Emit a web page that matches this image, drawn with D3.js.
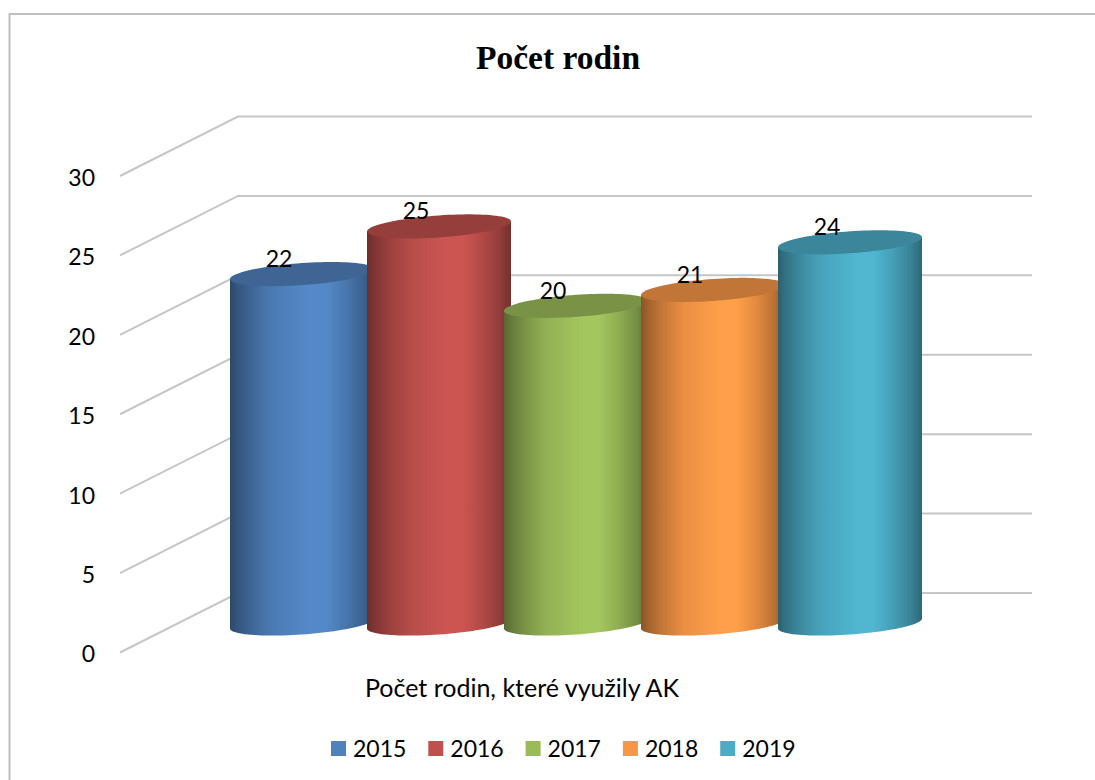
<!DOCTYPE html>
<html>
<head>
<meta charset="utf-8">
<script src="https://cdn.jsdelivr.net/npm/d3@7"></script>
<style>
  html, body { margin: 0; padding: 0; background: #fff; }
  svg { display: block; }
  text { font-family: Lato, "Noto Sans", sans-serif; fill: #000; }
</style>
</head>
<body>
<div id="chart"></div>
<script>
var years = ["2015", "2016", "2017", "2018", "2019"];
var families = [22, 25, 20, 21, 24];
var colors = ["#4f81bd", "#c0504d", "#9bbb59", "#f79646", "#4bacc6"];
var yTicks = [0, 5, 10, 15, 20, 25, 30];
var titleText = "Počet rodin";
var axisTitle = "Počet rodin, které využily AK";

var width = 1095, height = 780;

var svg = d3.select("#chart")
  .append("svg")
    .attr("width", width)
    .attr("height", height);

// chart frame, runs off the right and bottom of the page
svg.append("path")
  .attr("d", "M9.5,780V14H1095")
  .attr("fill", "none")
  .attr("stroke", "#c0c0c0")
  .attr("stroke-width", 2);

svg.append("text")
  .attr("x", 558)
  .attr("y", 69)
  .attr("text-anchor", "middle")
  .style("font-family", "'Liberation Serif', serif")
  .style("font-weight", "bold")
  .style("font-size", "33.5px")
  .text(titleText);

// front plane of the 3d box
var y = d3.scaleLinear().domain([0, 30]).range([652.5, 176]);
var depthX = 118, depthY = 59.5;

// Y axis, labels only
var axis = svg.append("g")
  .attr("transform", "translate(120,0)")
  .call(d3.axisLeft(y).tickValues(yTicks).tickSize(0).tickPadding(25));
axis.select(".domain").remove();
axis.selectAll("text")
  .attr("y", 2)
  .style("font-family", "Lato, 'Noto Sans', sans-serif")
  .style("font-size", "23px");

// grid: side wall then back wall
svg.append("g")
  .selectAll("path")
  .data(yTicks)
  .enter()
  .append("path")
    .attr("d", function(d) {
      return "M120," + y(d) + "L" + (120 + depthX) + "," + (y(d) - depthY) + "H1032";
    })
    .attr("fill", "none")
    .attr("stroke", "#c6c6c6")
    .attr("stroke-width", 2);

// shading across a cylinder, offset / brightness
var shade = [[0, 0.56], [0.05, 0.66], [0.18, 0.83], [0.3, 0.95], [0.55, 1.06], [0.66, 1.06], [0.8, 0.92], [0.92, 0.76], [1, 0.6]];
var defs = svg.append("defs");
function tint(c, k) {
  var col = d3.rgb(c);
  return d3.rgb(Math.min(255, col.r * k), Math.min(255, col.g * k), Math.min(255, col.b * k)).formatHex();
}
colors.forEach(function(c, i) {
  var g = defs.append("linearGradient").attr("id", "cyl" + i);
  shade.forEach(function(s) {
    g.append("stop").attr("offset", s[0]).attr("stop-color", tint(c, s[1]));
  });
});

// cylinders
var x = d3.scaleBand().domain(years).range([230, 915]);
var barWidth = x.bandwidth() + 7;
var halfW = barWidth / 2;
var baseOffset = 29;  // how far the bar centre sits back from the front plane
var tilt = 5, ry = 11;

var line = d3.line();

function rimPoint(cx, cy, t) {
  return [cx + halfW * Math.cos(t), cy + ry * Math.sin(t) - tilt * Math.cos(t)];
}
function bodyPath(d, i) {
  var cx = x(years[i]) + halfW;
  var top = y(d) - baseOffset, bottom = y(0) - baseOffset;
  var pts = [rimPoint(cx, top, 0)];
  // lower rim, right to left
  d3.range(0, 49).forEach(function(k) {
    pts.push(rimPoint(cx, bottom, Math.PI * k / 48));
  });
  pts.push(rimPoint(cx, top, Math.PI));
  return line(pts) + "Z";
}
function capPath(d, i) {
  var cx = x(years[i]) + halfW;
  var pts = d3.range(0, 96).map(function(k) {
    return rimPoint(cx, y(d) - baseOffset, 2 * Math.PI * k / 96);
  });
  return line(pts) + "Z";
}

var bars = svg.append("g")
  .selectAll("g")
  .data(families)
  .enter()
  .append("g");

bars.append("path")
  .attr("d", bodyPath)
  .attr("fill", function(d, i) { return "url(#cyl" + i + ")"; });

bars.append("path")
  .attr("d", capPath)
  .attr("fill", function(d, i) { return tint(colors[i], 0.78); });

// value labels
svg.append("g")
  .selectAll("text")
  .data(families)
  .enter()
  .append("text")
    .attr("x", function(d, i) { return x(years[i]) + 49; })
    .attr("y", function(d) { return y(d) - baseOffset + 5 - 20; })
    .attr("dy", "0.35em")
    .attr("text-anchor", "middle")
    .style("font-size", "23px")
    .text(function(d) { return d; });

svg.append("text")
  .attr("x", 522)
  .attr("y", 688)
  .attr("dy", "0.35em")
  .attr("text-anchor", "middle")
  .style("font-size", "25px")
  .text(axisTitle);

// legend
var legendX = d3.scaleBand().domain(years).range([331, 331 + 5 * 97.3]);
var legend = svg.append("g")
  .selectAll("g")
  .data(years)
  .enter()
  .append("g")
    .attr("transform", function(d) { return "translate(" + legendX(d) + ",741)"; });

legend.append("rect")
  .attr("width", 15)
  .attr("height", 15)
  .attr("fill", function(d, i) { return colors[i]; });

legend.append("text")
  .attr("x", 22)
  .attr("y", 7.5)
  .attr("dy", "0.35em")
  .style("font-size", "23px")
  .text(function(d) { return d; });
</script>
</body>
</html>
